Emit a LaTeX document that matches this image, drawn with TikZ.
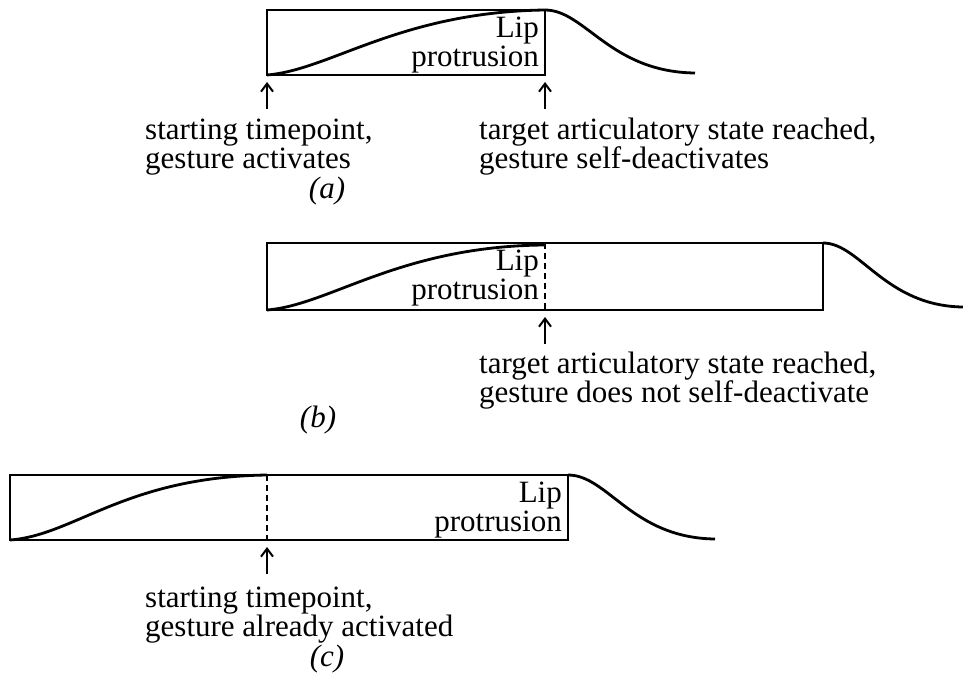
\documentclass[tikz,border=0pt]{standalone}
\usepackage{fontspec}
\setmainfont{Liberation Serif}
\usetikzlibrary{arrows.meta}

\tikzstyle{panel}=[draw, line width=2.8pt, inner sep=0pt, outer sep=0pt, anchor=north west]
\tikzstyle{trace}=[line width=2.8pt]
\tikzstyle{arrow}=[line width=2pt, shorten >=7pt, -{Straight Barb[length=8pt, width=12pt]}]
\tikzstyle{divider}=[line width=1.8pt, dash pattern=on 6pt off 4pt]
\tikzstyle{txt}=[inner sep=0pt, font=\fontsize{31}{29}\selectfont]

\begin{document}
\begin{tikzpicture}[x=1pt, y=-1pt]
      \useasboundingbox (0,0) rectangle (963,687);

      % (a)
      \node[panel, minimum width=278pt, minimum height=65pt] (boxA) at (267,10) {};
      \draw[trace] (boxA.south west) .. controls (330,70) and (400,12) .. (boxA.north east)
            .. controls (585,10) and (610,72) .. (695,73);
      \node[txt, anchor=north east, align=right] (lipA) at (539,17) {Lip\\protrusion};
      \coordinate (tailA1) at (267,109);
      \coordinate (tailA2) at (545,109);
      \draw[arrow] (tailA1) -- (boxA.south west);
      \draw[arrow] (tailA2) -- (boxA.south east);
      % base = baseline of the last line
      \node[txt, anchor=base west, align=left] (startA) at (145,169) {starting timepoint,\\gesture activates};
      \node[txt, anchor=base west, align=left] (targetA) at (479,169) {target articulatory state reached,\\gesture self-deactivates};
      \node[txt, anchor=base] (capA) at (327,198) {\textit{(a)}};

      % (b)
      \node[panel, minimum width=556pt, minimum height=67pt] (boxB) at (267,243) {};
      \draw[trace] (boxB.south west) .. controls (330,305) and (400,246) .. (545,245);
      \draw[divider] (545,243) -- (545,310);
      \draw[trace] (boxB.north east) .. controls (860,243) and (885,306) .. (963,307);
      \node[txt, anchor=north east, align=right] (lipB) at (539,250) {Lip\\protrusion};
      \coordinate (tailB) at (545,344);
      \draw[arrow] (tailB) -- (boxB.south);
      \node[txt, anchor=base west, align=left] (targetB) at (479,402) {target articulatory state reached,\\gesture does not self-deactivate};
      \node[txt, anchor=base] (capB) at (318,427) {\textit{(b)}};

      % (c)
      \node[panel, minimum width=558pt, minimum height=65pt] (boxC) at (10,475) {};
      \draw[trace] (boxC.south west) .. controls (75,535) and (125,477) .. (267,475);
      \draw[divider] (267,475) -- (267,540);
      \draw[trace] (boxC.north east) .. controls (608,475) and (632,538) .. (715,539);
      \node[txt, anchor=north east, align=right] (lipC) at (562,482) {Lip\\protrusion};
      \coordinate (tailC) at (267,574);
      \draw[arrow] (tailC) -- (267,540);
      \node[txt, anchor=base west, align=left] (startC) at (145,636) {starting timepoint,\\gesture already activated};
      \node[txt, anchor=base] (capC) at (327,666) {\textit{(c)}};
\end{tikzpicture}
\end{document}
